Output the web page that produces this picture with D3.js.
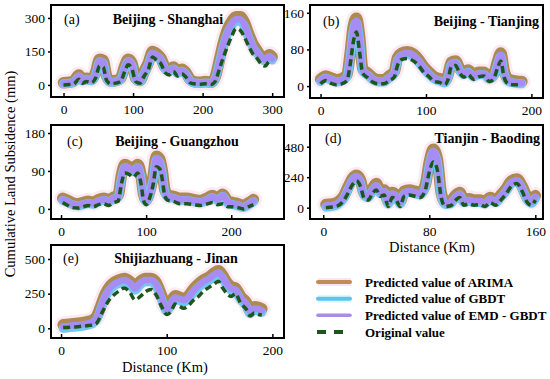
<!DOCTYPE html>
<html>
<head>
<meta charset="utf-8">
<script src="https://cdn.jsdelivr.net/npm/d3@7"></script>
<style>
  body { margin: 0; background: #fff; }
  svg { display: block; font-family: 'Liberation Serif', 'Times New Roman', serif; }
</style>
</head>
<body>
<div id="chart"></div>
<script>
// (a) Beijing - Shanghai
const aDist  = [0,8,15,22,27,33,40,46,52,57, 62,68,75,82,88,93,98,104,110,116, 122,128,134,140,146,152,158,164,170,176, 182,188,196,204,212,218,224,230,236,242, 248,254,260,266,272,278,284,290,296,300];
const aOrig  = [0,2,5,25,8,15,10,30,85,80, 20,5,8,15,60,90,75,15,8,40, 70,125,110,95,55,45,60,40,50,35, 10,5,3,5,2,15,70,125,175,220, 252,245,215,175,140,120,95,85,105,100];
const aArima = [10,12,18,45,25,30,25,55,115,110, 40,18,20,30,85,115,100,30,20,60, 100,150,140,120,80,70,80,60,70,55, 25,15,12,15,12,35,110,190,250,285, 305,305,280,230,185,155,130,120,135,125];
const aGbdt  = [5,7,12,36,18,23,18,46,104,99, 32,12,14,23,75,104,90,23,14,51, 90,138,128,110,71,61,71,52,61,47, 18,9,7,9,7,28,98,175,232,266, 285,285,262,214,170,142,118,108,122,112];
const aEmd   = [7,9,15,40,21,26,21,50,108,104, 36,15,17,26,80,108,94,26,17,55, 94,143,133,115,75,65,75,56,65,51, 21,12,9,12,9,31,103,182,240,275, 294,294,270,222,177,148,124,114,128,118];

// (b) Beijing - Tianjing
const bDist  = [0,5,10,15,20,25,28,31,34,37, 40,45,50,55,60,65,70,73,77,82, 88,93,98,103,108,113,118,121,124,128, 132,136,140,145,150,155,160,164,168,171, 174,178,183,188,191];
const bOrig  = [5,12,6,3,5,12,45,95,118,75, 28,18,8,5,5,12,20,45,58,60, 55,45,30,20,10,8,3,15,42,45, 28,20,25,15,20,22,10,15,40,55, 20,5,3,3,2];
const bArima = [15,22,18,14,16,25,70,130,148,110, 38,28,18,14,14,22,32,62,72,75, 70,58,42,30,20,16,12,25,52,55, 38,30,35,25,30,30,20,25,55,72, 35,15,12,10,10];
const bGbdt  = [10,17,13,9,11,20,62,120,138,100, 32,23,13,9,9,17,27,55,66,69, 64,52,37,25,15,11,7,20,47,50, 33,25,30,20,25,25,15,20,49,65, 29,10,7,5,5];
const bEmd   = [12,19,15,11,13,22,66,125,143,105, 35,25,15,11,11,19,29,58,69,72, 67,55,39,27,17,13,9,22,49,52, 35,27,32,22,27,27,17,22,52,68, 32,12,9,7,7];

// (c) Beijing - Guangzhou
const cDist  = [2,8,14,20,26,32,38,44,50,56, 62,67,71,75,80,85,90,94,97,100, 104,108,112,116,119,122,126,132,140,148, 156,164,172,178,184,190,196,202,208,214, 220,226];
const cOrig  = [15,8,3,2,5,8,5,10,12,8, 15,18,60,85,82,75,85,60,20,10, 25,55,100,95,70,30,20,18,12,12, 10,8,12,15,10,12,5,5,3,0, 5,10];
const cArima = [25,20,14,12,15,18,16,22,25,22, 28,32,80,105,100,95,105,80,35,22, 40,75,125,118,90,45,32,30,25,25, 22,20,26,32,25,35,18,15,12,8, 14,22];
const cGbdt  = [20,15,9,7,10,13,11,17,20,17, 23,27,73,98,93,88,98,73,30,17, 35,68,117,110,83,40,27,25,20,20, 17,15,21,27,20,30,13,10,7,3, 9,17];
const cEmd   = [22,17,11,9,12,15,13,19,22,19, 25,29,76,101,96,91,101,76,32,19, 37,71,120,113,86,42,29,27,22,22, 19,17,23,29,22,32,15,12,9,5, 11,19];

// (d) Tianjin - Baoding
const dDist  = [2,7,11,15,19,22,25,28,31,34, 37,40,43,46,49,52,55,58,61,65, 69,73,77,80,83,86,89,92,96,100, 103,106,110,114,118,122,126,130,134,138, 142,146,150,154,157,160];
const dOrig  = [0,5,15,50,120,180,210,170,70,60, 110,140,90,100,10,80,60,10,90,100, 90,80,140,280,360,300,80,10,15,60, 80,20,30,20,25,10,40,20,60,110, 170,190,130,40,20,60];
const dArima = [25,30,45,85,170,230,255,220,110,100, 150,190,130,140,50,120,100,50,130,140, 130,120,180,360,460,390,120,45,50,100, 120,60,70,60,60,50,80,60,100,150, 210,225,170,80,55,95];
const dGbdt  = [5,10,25,65,150,210,235,200,90,80, 130,165,110,120,30,100,80,30,110,120, 110,100,160,335,435,365,100,25,30,80, 100,40,50,40,40,30,60,40,80,130, 190,205,150,60,35,75];
const dEmd   = [15,20,35,75,160,220,245,210,100,90, 140,175,120,130,40,110,90,40,120,130, 120,110,170,348,448,378,110,35,40,90, 110,50,60,50,50,40,70,50,90,140, 200,215,160,70,45,85];

// (e) Shijiazhuang - Jinan
const eDist  = [2,8,14,20,26,30,34,38,42,46, 50,55,60,65,70,75,80,85,90,95, 100,104,108,112,116,120,125,130,135,140, 145,149,153,157,161,165,170,175,179,183, 187,190];
const eOrig  = [5,8,10,15,20,25,40,100,160,210, 240,270,290,260,205,230,265,280,240,160, 100,120,175,160,145,160,200,230,270,295, 320,340,290,250,230,250,180,140,90,110, 100,95];
const eArima = [25,30,35,40,50,60,90,170,250,300, 330,350,360,340,300,340,360,360,330,240, 150,190,235,225,215,230,280,320,350,370, 400,415,380,330,300,290,230,190,130,155, 150,140];
const eGbdt  = [0,5,10,15,25,35,65,145,225,275, 305,325,335,315,275,315,335,335,305,215, 125,165,210,200,190,205,255,295,325,345, 375,390,355,305,275,265,205,165,105,130, 125,115];
const eEmd   = [13,18,23,28,38,48,78,158,238,288, 318,338,348,328,288,328,348,348,318,228, 138,178,223,213,203,218,268,308,338,358, 388,403,368,318,288,278,218,178,118,143, 138,128];

const seriesNames = ['Predicted value of ARIMA', 'Predicted value of GBDT', 'Predicted value of EMD - GBDT', 'Original value'];

const W = 550, H = 379;

const panels = [
    { tag: '(a)', title: 'Beijing - Shanghai', x: aDist, s: [aArima, aGbdt, aEmd, aOrig],
      box: [51, 5, 284, 97], xd: [-18, 317], yd: [-54, 358], xt: [0, 100, 200, 300], yt: [0, 150, 300],
      tt: { x: 168, y: 24, anchor: 'middle' }, tg: { x: 64, y: 24 } },
    { tag: '(b)', title: 'Beijing - Tianjing', x: bDist, s: [bArima, bGbdt, bEmd, bOrig],
      box: [310, 5, 543, 98], xd: [-10, 211], yd: [-26, 177], xt: [0, 100, 200], yt: [0, 80, 160],
      tt: { x: 539, y: 26, anchor: 'end' }, tg: { x: 323, y: 26 } },
    { tag: '(c)', title: 'Beijing - Guangzhou', x: cDist, s: [cArima, cGbdt, cEmd, cOrig],
      box: [51, 125, 284, 219], xd: [-11.8, 262], yd: [-24, 199], xt: [0, 100, 200], yt: [0, 90, 180],
      tt: { x: 177, y: 146, anchor: 'middle' }, tg: { x: 67, y: 146 } },
    { tag: '(d)', title: 'Tianjin - Baoding', x: dDist, s: [dArima, dGbdt, dEmd, dOrig],
      box: [310, 125, 543, 219], xd: [-10, 165.8], yd: [-89, 651], xt: [0, 80, 160], yt: [0, 240, 480],
      tt: { x: 540, y: 143, anchor: 'end' }, tg: { x: 325, y: 143 } },
    { tag: '(e)', title: 'Shijiazhuang - Jinan', x: eDist, s: [eArima, eGbdt, eEmd, eOrig],
      box: [51, 245, 284, 338], xd: [-9.5, 211], yd: [-70, 601], xt: [0, 100, 200], yt: [0, 250, 500],
      tt: { x: 176, y: 263, anchor: 'middle' }, tg: { x: 63, y: 263 } }
];

// stroke styles for ARIMA, GBDT, EMD-GBDT, original
const styles = [
    { color: '#ad8a52', width: 11.5, dash: null },
    { color: '#72c6f2', width: 9, dash: null },
    { color: '#a68cf4', width: 6.5, dash: null },
    { color: '#1b561c', width: 3.5, dash: '7,4' }
];

const svg = d3.select('#chart').append('svg')
    .attr('width', W)
    .attr('height', H);

svg.append('rect').attr('width', W).attr('height', H).style('fill', '#fff');

panels.forEach(p => {
    const [x0, y0, x1, y1] = p.box;
    const xs = d3.scaleLinear().domain(p.xd).range([x0, x1]);
    const ys = d3.scaleLinear().domain(p.yd).range([y1, y0]);
    const g = svg.append('g');

    const line = d3.line()
        .x((d, i) => xs(p.x[i]))
        .y(d => ys(d))
        .curve(d3.curveMonotoneX);

    // soft halo under the ARIMA band
    g.append('path')
        .attr('d', line(p.s[0]))
        .style('fill', 'none')
        .style('stroke', '#f6c4dc')
        .style('stroke-opacity', 0.35)
        .style('stroke-width', 17)
        .style('stroke-linejoin', 'round')
        .style('stroke-linecap', 'round');

    p.s.forEach((vals, k) => {
        const st = styles[k];
        g.append('path')
            .attr('d', line(vals))
            .style('fill', 'none')
            .style('stroke', st.color)
            .style('stroke-width', st.width)
            .style('stroke-linejoin', 'round')
            .style('stroke-linecap', st.dash ? 'butt' : 'round')
            .style('stroke-dasharray', st.dash);
    });

    const xAxis = g.append('g')
        .attr('transform', `translate(0,${y1})`)
        .call(d3.axisBottom(xs).tickValues(p.xt).tickSize(-4).tickPadding(7).tickFormat(d3.format('d')));
    const yAxis = g.append('g')
        .attr('transform', `translate(${x0},0)`)
        .call(d3.axisLeft(ys).tickValues(p.yt).tickSize(3).tickPadding(3).tickFormat(d3.format('d')));

    [xAxis, yAxis].forEach(a => {
        a.select('.domain').remove();
        a.selectAll('line').style('stroke', '#000').style('stroke-width', 1.5);
        a.selectAll('text')
            .style('font-family', "'Liberation Serif', serif")
            .style('font-size', '13.5px')
            .style('fill', '#000');
    });

    g.append('rect')
        .attr('x', x0)
        .attr('y', y0)
        .attr('width', x1 - x0)
        .attr('height', y1 - y0)
        .style('fill', 'none')
        .style('stroke', '#000')
        .style('stroke-width', 2);

    g.append('text')
        .attr('x', p.tg.x)
        .attr('y', p.tg.y)
        .style('font-size', '14px')
        .text(p.tag);

    g.append('text')
        .attr('x', p.tt.x)
        .attr('y', p.tt.y)
        .attr('text-anchor', p.tt.anchor)
        .style('font-size', '14px')
        .style('font-weight', 'bold')
        .text(p.title);
});

// axis titles
svg.append('text')
    .attr('transform', 'translate(15,174) rotate(-90)')
    .attr('text-anchor', 'middle')
    .style('font-size', '14.5px')
    .text('Cumulative Land Subsidence (mm)');

svg.append('text')
    .attr('x', 432)
    .attr('y', 252)
    .attr('text-anchor', 'middle')
    .style('font-size', '14.5px')
    .text('Distance (Km)');

svg.append('text')
    .attr('x', 165)
    .attr('y', 372)
    .attr('text-anchor', 'middle')
    .style('font-size', '14.5px')
    .text('Distance (Km)');

// legend
const legendY = d3.scalePoint().domain(seriesNames).range([282, 332]);
const legStyles = [
    { color: '#c28a58', halo: '#f8d0e4', width: 4, dash: null },
    { color: '#5ec4ee', halo: '#c8f4f8', width: 4, dash: null },
    { color: '#a88ce8', halo: null, width: 3.5, dash: null },
    { color: '#1b561c', halo: null, width: 4, dash: '9,8' }
];
const leg = svg.append('g');
seriesNames.forEach((name, k) => {
    const y = legendY(name);
    const st = legStyles[k];
    if (st.halo) {
        leg.append('line')
            .attr('x1', 318).attr('x2', 351).attr('y1', y).attr('y2', y)
            .style('stroke', st.halo).style('stroke-width', 8).style('stroke-opacity', 0.6);
    }
    leg.append('line')
        .attr('x1', st.dash ? 317 : 318).attr('x2', 350).attr('y1', y).attr('y2', y)
        .style('stroke', st.color)
        .style('stroke-width', st.width)
        .style('stroke-linecap', st.dash ? 'butt' : 'round')
        .style('stroke-dasharray', st.dash);
    leg.append('text')
        .attr('x', 365)
        .attr('y', y)
        .attr('dy', '0.35em')
        .style('font-size', '13px')
        .style('font-weight', 'bold')
        .text(name);
});
</script>
</body>
</html>
